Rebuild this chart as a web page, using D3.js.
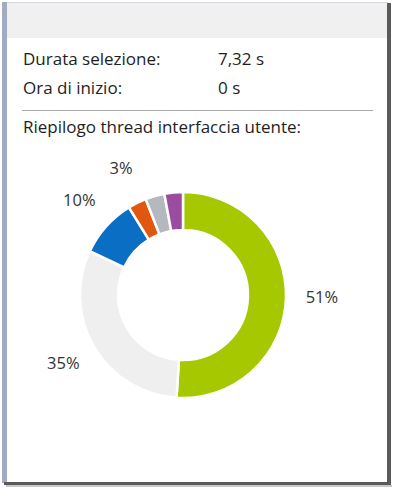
<!DOCTYPE html>
<html>
<head>
<meta charset="utf-8">
<script src="https://cdn.jsdelivr.net/npm/d3@7"></script>
<style>
  html, body { margin: 0; padding: 0; background: #ffffff; }
  svg { display: block; font-family: "Open Sans", "Noto Sans", sans-serif; }
</style>
</head>
<body>
<div id="container"></div>
<script>
// info rows at the top of the panel
const infoLabels = ['Durata selezione:', 'Ora di inizio:'];
const infoValues = ['7,32 s', '0 s'];
const title = 'Riepilogo thread interfaccia utente:';

// donut slices, clockwise from 12 o'clock
const sliceNames  = ['ui', 'idle', 'layout', 'render', 'other', 'script'];
const sliceValues = [51, 31, 9.2, 2.9, 3, 2.9];
const sliceLabels = ['51%', '35%', '10%', '3%', '', ''];
const sliceColors = ['#a6c800', '#efefef', '#0b6ec5', '#e2570f', '#b5b8bf', '#9a4c9e'];

const width = 394, height = 488;

const svg = d3.select('#container').append('svg')
    .attr('width', width)
    .attr('height', height);

// window frame
svg.append('rect').attr('x', 0).attr('y', 0).attr('width', width).attr('height', height).attr('fill', '#ffffff');
svg.append('rect').attr('x', 6).attr('y', 3).attr('width', 382).attr('height', 35).attr('fill', '#f0f0f0');
svg.append('line').attr('x1', 6).attr('x2', 388).attr('y1', 2.5).attr('y2', 2.5).attr('stroke', '#d4d6de');
svg.append('rect').attr('x', 2).attr('y', 2).attr('width', 5).attr('height', 481).attr('fill', '#a3abc2');
svg.append('rect').attr('x', 387).attr('y', 3).attr('width', 4).attr('height', 482).attr('fill', '#5a5a5a');
svg.append('rect').attr('x', 4).attr('y', 482).attr('width', 387).attr('height', 3).attr('fill', '#5a5a5a');
svg.append('rect').attr('x', 6).attr('y', 485).attr('width', 386).attr('height', 2).attr('fill', '#c8c8c8');

// info text
const rows = svg.append('g').attr('font-size', 17).attr('fill', '#1e1e1e');
rows.selectAll('text.lbl').data(infoLabels).enter().append('text')
    .attr('class', 'lbl')
    .attr('x', 23)
    .attr('y', (d, i) => 65 + i * 29)
    .text(d => d);
rows.selectAll('text.val').data(infoValues).enter().append('text')
    .attr('class', 'val')
    .attr('x', 218)
    .attr('y', (d, i) => 65 + i * 29)
    .text(d => d);

svg.append('line').attr('x1', 22).attr('x2', 373).attr('y1', 110.5).attr('y2', 110.5)
    .attr('stroke', '#a8a8a8').attr('stroke-width', 1.2);

svg.append('text').attr('x', 23).attr('y', 133).attr('font-size', 17).attr('fill', '#1e1e1e').text(title);

// donut
const cx = 183, cy = 295, rOuter = 103, rInner = 65;
const pie = d3.pie().sort(null).value(d => d.value);
const arcs = pie(sliceValues.map((v, i) => ({ name: sliceNames[i], value: v, label: sliceLabels[i], color: sliceColors[i] })));
const arc = d3.arc().innerRadius(rInner).outerRadius(rOuter);
const labelArc = d3.arc().innerRadius(139).outerRadius(139);

const g = svg.append('g').attr('transform', `translate(${cx},${cy})`);
g.selectAll('path').data(arcs).enter().append('path')
    .attr('d', arc)
    .attr('fill', d => d.data.color)
    .attr('stroke', '#ffffff')
    .attr('stroke-width', 2.5)
    .attr('stroke-linejoin', 'miter');

g.selectAll('text').data(arcs.filter(d => d.data.label)).enter().append('text')
    .attr('transform', d => `translate(${labelArc.centroid(d)})`)
    .attr('text-anchor', 'middle')
    .attr('dy', '0.2em')
    .attr('font-size', 16.5)
    .attr('fill', '#333333')
    .text(d => d.data.label);
</script>
</body>
</html>
